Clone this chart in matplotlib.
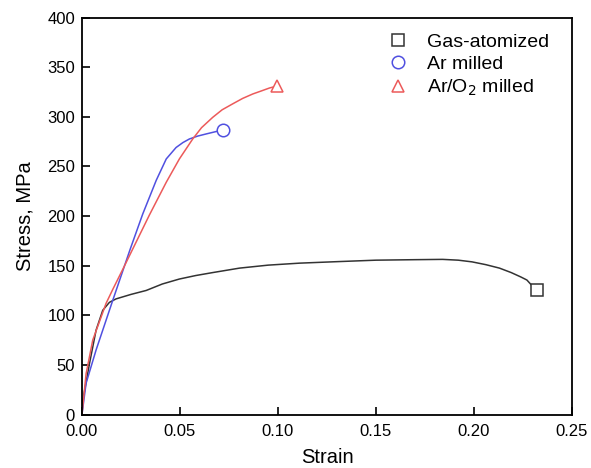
import matplotlib
matplotlib.use("Agg")
import matplotlib.pyplot as plt

plt.rcParams["font.family"] = ["Liberation Sans", "DejaVu Sans"]

# Stress-strain curves (strain, MPa)
gas_strain = [0, 0.0004, 0.0038, 0.0072, 0.0106, 0.014, 0.0174, 0.025, 0.0328, 0.041,
              0.0497, 0.058, 0.0667, 0.0804, 0.095, 0.111, 0.13, 0.150, 0.17, 0.184,
              0.192, 0.199, 0.206, 0.213, 0.219, 0.224, 0.227, 0.230, 0.2324]
gas_stress = [0, 14, 51, 85, 105, 113, 116.5, 121, 125, 131.5,
              136.5, 140, 143, 147.5, 150.5, 152.5, 154, 155.5, 156, 156.3,
              155.5, 153.8, 151, 147.5, 143, 138.5, 135.5, 129, 125]

ar_strain = [0, 0.0021, 0.0072, 0.0157, 0.0245, 0.031, 0.0379, 0.043, 0.048, 0.0515,
             0.0548, 0.059, 0.0634, 0.0718]
ar_stress = [0, 31.5, 65, 115, 166, 202, 236, 257.5, 269, 274,
             277.6, 280.5, 282.7, 286.7]

aro2_strain = [0, 0.0021, 0.0055, 0.0123, 0.0157, 0.0215, 0.0277, 0.0344, 0.043, 0.0497,
               0.0565, 0.061, 0.0667, 0.0715, 0.0769, 0.082, 0.0872, 0.0915, 0.0957, 0.0996]
aro2_stress = [0, 41, 75, 112, 126, 149, 174, 201, 234, 257.5,
               277.6, 289, 299.4, 307, 313, 318.5, 323, 326, 329, 331]

labels = ["Gas-atomized", "Ar milled", "Ar/O$_2$ milled"]
colors = ["#333333", "#5050e0", "#ec5a5a"]
markers = ["s", "o", "^"]

fig = plt.figure(figsize=(5.91, 4.68), dpi=100)
ax = fig.add_axes([0.1387, 0.1143, 0.8291, 0.8483])

series = [(gas_strain, gas_stress), (ar_strain, ar_stress), (aro2_strain, aro2_stress)]
for (x, y), lab, c, m in zip(series, labels, colors, markers):
    ax.plot(x, y, color=c, lw=1.1)
    ax.plot(x[-1], y[-1], linestyle="none", marker=m, markersize=9,
            markerfacecolor="white", markeredgecolor=c, markeredgewidth=1.1,
            label=lab)

ax.set_xlim(0, 0.25)
ax.set_ylim(0, 400)
ax.set_xticks([0, 0.05, 0.10, 0.15, 0.20, 0.25])
ax.set_xticklabels(["0.00", "0.05", "0.10", "0.15", "0.20", "0.25"])
ax.set_yticks(range(0, 401, 50))
ax.tick_params(direction="in", length=6, width=1.2, labelsize=12)
ax.tick_params(axis="x", pad=7)
ax.tick_params(axis="y", pad=5)
for s in ax.spines.values():
    s.set_linewidth(1.3)

ax.set_xlabel("Strain", fontsize=14.5, labelpad=6)
ax.set_ylabel("Stress, MPa", fontsize=14.5, labelpad=9)

ax.legend(loc="upper right", bbox_to_anchor=(0.99, 1.005), frameon=False,
          fontsize=14, handlelength=1.0, handletextpad=1.0, labelspacing=0.25)

fig.savefig("out.png", dpi=100)
